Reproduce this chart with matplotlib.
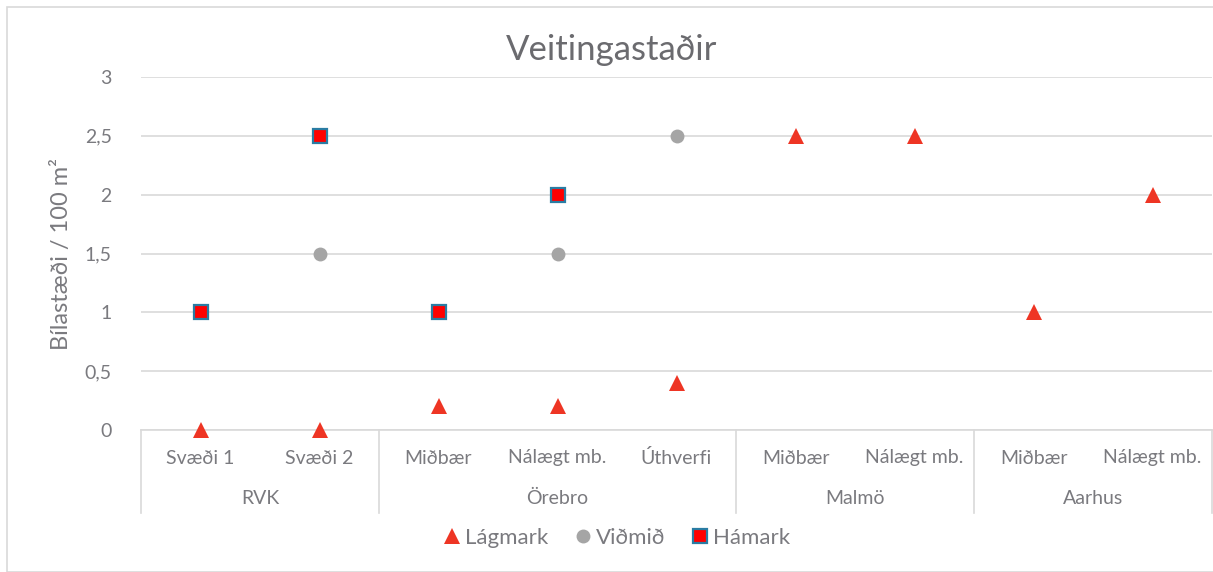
import numpy as np
import matplotlib
matplotlib.use("Agg")
import matplotlib.pyplot as plt
from matplotlib.ticker import FuncFormatter

plt.rcParams['font.family'] = ['Lato', 'DejaVu Sans']

groups = ['RVK', 'Örebro', 'Malmö', 'Aarhus']
group_sizes = [2, 3, 2, 2]
subcats = ['Svæði 1', 'Svæði 2', 'Miðbær', 'Nálægt mb.', 'Úthverfi',
           'Miðbær', 'Nálægt mb.', 'Miðbær', 'Nálægt mb.']
lagmark = [0, 0, 0.2, 0.2, 0.4, 2.5, 2.5, 1, 2]
vidmid = [1, 1.5, 1, 1.5, 2.5, np.nan, np.nan, np.nan, np.nan]
hamark = [1, 2.5, 1, 2, np.nan, np.nan, np.nan, np.nan, np.nan]

text_col = '#7a7a7f'
grid_col = '#d9d9d9'

fig = plt.figure(figsize=(12.13, 5.72), dpi=100)
ax = fig.add_axes([141 / 1213, 1 - 430 / 572, 1071 / 1213, 353 / 572])

x = np.arange(len(subcats))
ax.plot(x, lagmark, linestyle='none', marker='^', markersize=11,
        color='#ee3524', markeredgewidth=0, label='Lágmark', zorder=3,
        clip_on=False)
ax.plot(x, vidmid, linestyle='none', marker='o', markersize=10,
        color='#a5a5a5', markeredgewidth=0, label='Viðmið', zorder=3,
        clip_on=False)
ax.plot(x, hamark, linestyle='none', marker='s', markersize=9.5,
        markerfacecolor='#ff0000', markeredgecolor='#2a7ca3',
        markeredgewidth=1.6, label='Hámark', zorder=4, clip_on=False)

ax.set_xlim(-0.5, len(subcats) - 0.5)
ax.set_ylim(0, 3)
ax.set_yticks(np.arange(0, 3.01, 0.5))
ax.yaxis.set_major_formatter(FuncFormatter(lambda v, p: f'{v:g}'.replace('.', ',')))
ax.grid(axis='y', color=grid_col, linewidth=1.2)
ax.set_axisbelow(True)
for s in ax.spines.values():
    s.set_visible(False)
ax.tick_params(axis='y', length=0, labelsize=14, labelcolor=text_col, pad=21)
ax.set_xticks([])

# category axis with groups
trans = ax.get_xaxis_transform()
ax.plot([-0.5, len(subcats) - 0.5], [0, 0], color=grid_col, linewidth=1.2,
        transform=trans, clip_on=False, zorder=1)
bounds = np.concatenate([[0], np.cumsum(group_sizes)]) - 0.5
for b in bounds:
    ax.plot([b, b], [0, -83 / 353], color=grid_col, linewidth=1.2,
            transform=trans, clip_on=False, zorder=1)
for xi, lab in zip(x, subcats):
    ax.text(xi, -28 / 353, lab, transform=trans, ha='center', va='center',
            fontsize=14, color=text_col)
for i, g in enumerate(groups):
    mid = (bounds[i] + bounds[i + 1]) / 2
    ax.text(mid, -68 / 353, g, transform=trans, ha='center', va='center',
            fontsize=14, color=text_col)

ax.set_ylabel('Bílastæði / 100 m²', fontsize=17, color=text_col, labelpad=9)
fig.text(612 / 1213, 1 - 50 / 572, 'Veitingastaðir', ha='center', va='center',
         fontsize=25, color='#6b6b6f')

leg = fig.legend(loc='center', bbox_to_anchor=(615 / 1213, 1 - 538 / 572),
                 ncol=3, frameon=False, fontsize=16, handletextpad=0.05,
                 columnspacing=1.0, handlelength=1.1)
for t in leg.get_texts():
    t.set_color(text_col)

# chart border
fig.patches.append(plt.Rectangle((7 / 1213, 0), 1.1, 1 - 7 / 572,
                                 transform=fig.transFigure, fill=False,
                                 edgecolor=grid_col, linewidth=1.2))

fig.savefig('out.png', dpi=100)
